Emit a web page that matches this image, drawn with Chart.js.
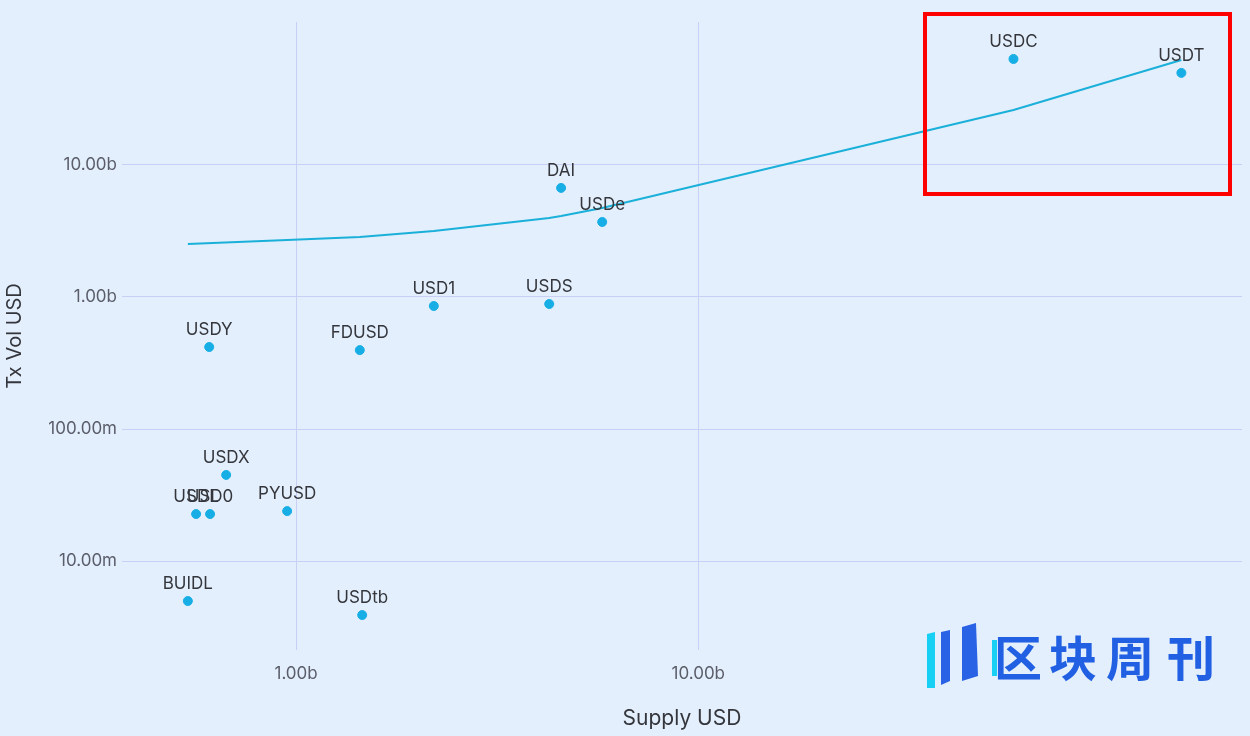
<!DOCTYPE html>
<html>
<head>
<meta charset="utf-8">
<script src="https://cdn.jsdelivr.net/npm/chart.js@4.4.1/dist/chart.umd.min.js"></script>
<style>
  html, body { margin: 0; padding: 0; background: #e3effc; }
  #wrap { width: 1250px; height: 736px; }
</style>
</head>
<body>
<div id="wrap"><canvas id="supplyChart" width="1250" height="736"></canvas></div>
<script>
// stablecoins: supply vs transfer volume (USD)
const coins = ["USDC", "USDT", "DAI", "USDe", "USD1", "USDS", "USDY", "FDUSD", "USDX", "USDL", "USD0", "PYUSD", "BUIDL", "USDtb"];
const supply = [60.8e9, 159e9, 4.56e9, 5.77e9, 2.2e9, 4.26e9, 608e6, 1.44e9, 670e6, 564e6, 611e6, 950e6, 538e6, 1.46e9];
const txVol = [63.5e9, 49.8e9, 6.7e9, 3.7e9, 855e6, 885e6, 418e6, 396e6, 44.9e6, 22.7e6, 22.7e6, 23.9e6, 4.98e6, 3.9e6];

// trend line
const trendX = [538e6, 950e6, 1.44e9, 2.2e9, 4.26e9, 4.56e9, 5.77e9, 60.8e9, 159e9];
const trendY = [2.52e9, 2.7e9, 2.85e9, 3.16e9, 3.97e9, 4.1e9, 4.72e9, 26.1e9, 62.4e9];

const xTicks = [1e9, 1e10];
const yTicks = [1e7, 1e8, 1e9, 1e10];

function fmt(v) {
  if (v >= 1e9) return (v / 1e9).toFixed(2) + "b";
  return (v / 1e6).toFixed(2) + "m";
}

const pointLabels = {
  id: "pointLabels",
  afterDatasetsDraw(chart) {
    const c = chart.ctx;
    const meta = chart.getDatasetMeta(1);
    c.save();
    c.font = "17px Inter";
    c.fillStyle = "#34363c";
    c.textAlign = "center";
    c.textBaseline = "middle";
    meta.data.forEach((pt, i) => {
      c.fillText(coins[i], pt.x, pt.y - 17);
    });
    c.restore();
  }
};

const extras = {
  id: "extras",
  afterDraw(chart) {
    const c = chart.ctx;
    c.save();
    // highlight box
    c.strokeStyle = "#ff0000";
    c.lineWidth = 4;
    c.strokeRect(925, 14, 305, 180);

    // watermark logo
    c.fillStyle = "#18d0f4";
    c.beginPath();
    c.moveTo(927, 634); c.lineTo(935, 632); c.lineTo(935, 688); c.lineTo(927, 688);
    c.closePath(); c.fill();
    c.fillStyle = "#2a62e6";
    c.beginPath();
    c.moveTo(941, 632); c.lineTo(950, 630); c.lineTo(950, 681); c.lineTo(941, 685);
    c.closePath(); c.fill();
    c.beginPath();
    c.moveTo(962, 627); c.lineTo(976, 623); c.lineTo(978, 676); c.lineTo(962, 681);
    c.closePath(); c.fill();
    c.fillStyle = "#18d0f4";
    c.fillRect(992, 640, 5, 36);

    c.fillStyle = "#2160e2";
    c.font = "bold 48px 'Noto Sans CJK SC'";
    c.textAlign = "center";
    c.textBaseline = "middle";
    const chars = ["区", "块", "周", "刊"];
    const cx = [1018, 1073, 1130, 1191];
    chars.forEach((ch, i) => c.fillText(ch, cx[i], 658));
    c.restore();
  }
};

const ctx = document.getElementById("supplyChart").getContext("2d");
const supplyChart = new Chart(ctx, {
  type: "scatter",
  data: {
    datasets: [
      {
        label: "trend",
        data: trendX.map((x, i) => ({ x: x, y: trendY[i] })),
        showLine: true,
        borderColor: "#1ab0d9",
        borderWidth: 2,
        pointRadius: 0,
        tension: 0,
        order: 2,
      },
      {
        label: "coins",
        data: supply.map((x, i) => ({ x: x, y: txVol[i] })),
        backgroundColor: "#17aee6",
        borderColor: "#17aee6",
        pointRadius: 4.5,
        order: 1,
      },
    ],
  },
  options: {
    responsive: false,
    animation: false,
    layout: { padding: { left: 0, top: 22, right: 8, bottom: 0 } },
    plugins: {
      legend: { display: false },
      tooltip: { enabled: false },
    },
    scales: {
      x: {
        type: "logarithmic",
        min: 369e6,
        max: 225e9,
        afterBuildTicks: (axis) => { axis.ticks = xTicks.map(v => ({ value: v })); },
        afterFit: (axis) => { axis.height = 86; },
        grid: { color: "#c9cff5", drawTicks: false },
        border: { display: false },
        ticks: {
          color: "#5b5e6a",
          font: { family: "Inter", size: 17 },
          padding: 14,
          callback: (v) => fmt(v),
        },
        title: {
          display: true,
          text: "Supply USD",
          color: "#34363c",
          font: { family: "Inter", size: 21 },
          padding: { top: 0, bottom: 5 },
        },
      },
      y: {
        type: "logarithmic",
        min: 2.12e6,
        max: 121e9,
        afterBuildTicks: (axis) => { axis.ticks = yTicks.map(v => ({ value: v })); },
        afterFit: (axis) => { axis.width = 122; },
        grid: { color: "#c9cff5", drawTicks: false },
        border: { display: false },
        ticks: {
          color: "#5b5e6a",
          font: { family: "Inter", size: 17 },
          padding: 5,
          callback: (v) => fmt(v),
        },
        title: {
          display: true,
          text: "Tx Vol USD",
          color: "#34363c",
          font: { family: "Inter", size: 20 },
          padding: { top: 3, bottom: 0 },
        },
      },
    },
  },
  plugins: [pointLabels, extras],
});
</script>
</body>
</html>
